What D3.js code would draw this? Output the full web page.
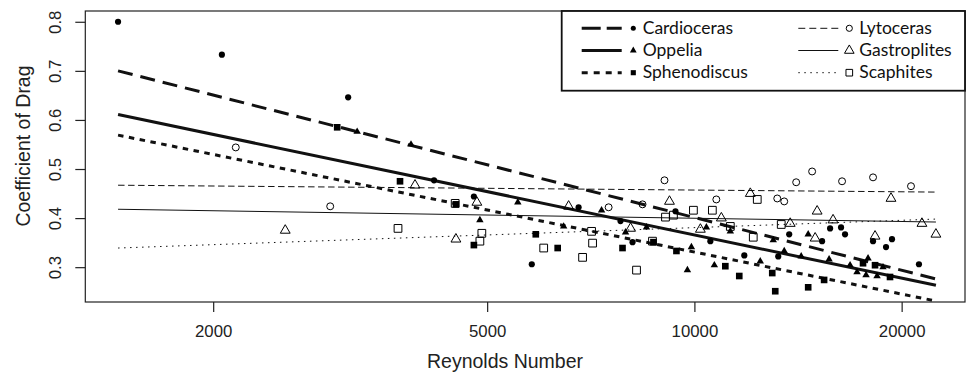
<!DOCTYPE html>
<html>
<head>
<meta charset="utf-8">
<script src="https://cdn.jsdelivr.net/npm/d3@7"></script>
<style>
  body { margin: 0; background: #fff; }
  svg { display: block; }
</style>
</head>
<body>
<div id="chart"></div>
<script>
// d3: drag coefficient vs Reynolds number for six ammonite genera
// ===============================================================

var width = 966,
    height = 372;

var box = {left: 85.3, right: 965, top: 11, bottom: 302};

// points: Reynolds number / coefficient of drag
var cardiocerasRe = [1455, 2059, 3141, 4186, 4783, 5805, 6789, 7810, 8131, 9386, 10548, 11816,
                     13237, 13731, 15328, 15743, 16331, 16550, 18175, 18981, 19364, 21192];
var cardiocerasCd = [0.800, 0.733, 0.646, 0.477, 0.444, 0.306, 0.422, 0.394, 0.351, 0.414, 0.353, 0.324,
                     0.322, 0.367, 0.353, 0.379, 0.381, 0.367, 0.353, 0.341, 0.357, 0.306];

var oppeliaRe = [3237, 3876, 4880, 5540, 6458, 7331, 7943, 8519, 9769, 9900, 10409, 10690, 11276,
                 12464, 13018, 13504, 14293, 14631, 15691, 16831, 17228, 17755, 17874, 18420, 18792];
var oppeliaCd = [0.576, 0.550, 0.396, 0.432, 0.383, 0.416, 0.371, 0.381, 0.294, 0.341, 0.381, 0.304, 0.373,
                 0.312, 0.355, 0.333, 0.322, 0.367, 0.316, 0.304, 0.290, 0.284, 0.318, 0.282, 0.300];

var sphenodiscusRe = [3028, 3736, 4504, 4783, 5883, 6330, 7863, 8720, 9417, 11090, 11619, 12974,
                      13105, 14631, 15431, 17577, 18297, 19237];
var sphenodiscusCd = [0.585, 0.475, 0.428, 0.345, 0.367, 0.339, 0.339, 0.351, 0.333, 0.302, 0.282, 0.288,
                      0.251, 0.259, 0.274, 0.308, 0.304, 0.280];

var lytocerasRe = [2157, 2958, 7506, 8407, 9048, 10761, 13193, 13504, 14055, 14825, 16386, 18175, 20635];
var lytocerasCd = [0.544, 0.424, 0.422, 0.428, 0.477, 0.438, 0.440, 0.434, 0.473, 0.495, 0.475, 0.483, 0.465];

var gastroplitesRe = [2545, 3928, 4504, 4831, 6566, 8078, 9200, 10202, 10943, 12055, 13777, 14976,
                      15076, 15900, 18297, 19300, 21404, 22428];
var gastroplitesCd = [0.375, 0.467, 0.357, 0.432, 0.424, 0.379, 0.434, 0.377, 0.400, 0.450, 0.389, 0.359,
                      0.414, 0.396, 0.363, 0.440, 0.389, 0.367];

var scaphitesRe = [3711, 4493, 4912, 4880, 6041, 6880, 7090, 7114, 8240, 8692, 9078, 9323, 9967,
                   10619, 11276, 12176, 12340, 13370];
var scaphitesCd = [0.379, 0.430, 0.369, 0.353, 0.339, 0.320, 0.373, 0.349, 0.294, 0.353, 0.402, 0.406, 0.416,
                   0.416, 0.383, 0.361, 0.438, 0.387];

// fitted lines: Cd at the two ends of the Reynolds range
var fitRe = [1455, 22430];
var fitStart = [0.700, 0.611, 0.569, 0.467, 0.418, 0.339];
var fitEnd   = [0.276, 0.263, 0.231, 0.453, 0.392, 0.398];

var genera = ['Cardioceras', 'Oppelia', 'Sphenodiscus', 'Lytoceras', 'Gastroplites', 'Scaphites'];
var xTicks = [2000, 5000, 10000, 20000];
var yTicks = [0.3, 0.4, 0.5, 0.6, 0.7, 0.8];

var reLists = [cardiocerasRe, oppeliaRe, sphenodiscusRe, lytocerasRe, gastroplitesRe, scaphitesRe];
var cdLists = [cardiocerasCd, oppeliaCd, sphenodiscusCd, lytocerasCd, gastroplitesCd, scaphitesCd];

// marker + line look for each genus
var styles = [
  {shape: d3.symbolCircle,   filled: true,  size: 30, legSize: 20, lw: 3, dash: "15,8",    legDash: "19,6"},
  {shape: d3.symbolTriangle, filled: true,  size: 24, legSize: 20, lw: 3, dash: null,      legDash: null},
  {shape: d3.symbolSquare,   filled: true,  size: 44, legSize: 26, lw: 3, dash: "5.5,5.5", legDash: "6,6"},
  {shape: d3.symbolCircle,   filled: false, size: 38, legSize: 30, lw: 1, dash: "6.5,3.5", legDash: "7,4"},
  {shape: d3.symbolTriangle, filled: false, size: 42, legSize: 40, lw: 1, dash: null,      legDash: null},
  {shape: d3.symbolSquare,   filled: false, size: 60, legSize: 44, lw: 1, dash: "1.5,4.5", legDash: "1.5,4.5"}
];

var series = genera.map(function(g, i) {
  return {name: g, pts: d3.zip(reLists[i], cdLists[i]), from: fitStart[i], to: fitEnd[i], st: styles[i]};
});

var svg = d3.select("#chart").append("svg")
    .attr("width", width)
    .attr("height", height);

var x = d3.scaleLog()
    .domain([1304, 24720])
    .range([box.left, box.right]);

// R style: data range padded by 4%
var cdExt = d3.extent(d3.merge(cdLists));
var pad = (cdExt[1] - cdExt[0]) * 0.04;
var y = d3.scaleLinear()
    .domain([cdExt[0] - pad, cdExt[1] + pad])
    .range([box.bottom, box.top]);

svg.append("clipPath").attr("id", "plotclip")
  .append("rect")
    .attr("x", box.left).attr("y", box.top)
    .attr("width", box.right - box.left).attr("height", box.bottom - box.top);

// fitted lines
svg.append("g").attr("clip-path", "url(#plotclip)")
  .selectAll("line")
  .data(series)
  .join("line")
    .attr("x1", x(fitRe[0]))
    .attr("x2", x(fitRe[1]))
    .attr("y1", function(d) { return y(d.from); })
    .attr("y2", function(d) { return y(d.to); })
    .attr("stroke", "#111")
    .attr("stroke-width", function(d) { return d.st.lw; })
    .attr("stroke-dasharray", function(d) { return d.st.dash; });

// points
series.forEach(function(s) {
  svg.append("g")
    .selectAll("path")
    .data(s.pts)
    .join("path")
      .attr("transform", function(d) { return "translate(" + x(d[0]) + "," + y(d[1]) + ")"; })
      .attr("d", d3.symbol(s.st.shape, s.st.size))
      .attr("fill", s.st.filled ? "#000" : "#fff")
      .attr("fill-opacity", s.st.filled ? 1 : 0)
      .attr("stroke", s.st.filled ? "none" : "#000")
      .attr("stroke-width", 1);
});

// axes
var xAxis = svg.append("g")
    .attr("transform", "translate(0," + box.bottom + ")")
    .call(d3.axisBottom(x).tickValues(xTicks).tickSize(10).tickPadding(13).tickFormat(d3.format("d")));
xAxis.select(".domain").remove();

var yAxis = svg.append("g")
    .attr("transform", "translate(" + box.left + ",0)")
    .call(d3.axisLeft(y).tickValues(yTicks).tickSize(10).tickFormat(d3.format(".1f")));
yAxis.select(".domain").remove();
yAxis.selectAll("text")
    .attr("x", 0).attr("dy", 0)
    .attr("text-anchor", "middle")
    .attr("transform", "translate(-24,0) rotate(-90)");

svg.selectAll(".tick line").attr("stroke", "#222").attr("stroke-width", 1.2);
svg.selectAll(".tick text")
    .attr("font-family", "'Liberation Sans', Arial, sans-serif")
    .attr("font-size", 16.8)
    .attr("fill", "#222");

// plot frame
svg.append("rect")
    .attr("x", box.left).attr("y", box.top)
    .attr("width", box.right - box.left).attr("height", box.bottom - box.top)
    .attr("fill", "none")
    .attr("stroke", "#222")
    .attr("stroke-width", 1.2);

// axis titles
svg.append("text")
    .attr("x", 505).attr("y", 368)
    .attr("text-anchor", "middle")
    .attr("font-family", "'Liberation Sans', Arial, sans-serif")
    .attr("font-size", 19.5)
    .attr("fill", "#222")
    .text("Reynolds Number");

svg.append("text")
    .attr("transform", "translate(30,146) rotate(-90)")
    .attr("text-anchor", "middle")
    .attr("font-family", "'Liberation Sans', Arial, sans-serif")
    .attr("font-size", 19.5)
    .attr("fill", "#222")
    .text("Coefficient of Drag");

// legend
var legend = svg.append("g");
legend.append("rect")
    .attr("x", 561.7).attr("y", box.top)
    .attr("width", box.right - 561.7).attr("height", 79.7)
    .attr("fill", "#fff")
    .attr("stroke", "#111")
    .attr("stroke-width", 1.8);

var legCols = [581.7, 798.3];
var legRows = [28.3, 50.5, 72.7];

var item = legend.selectAll("g.item")
    .data(series)
    .join("g")
    .attr("class", "item")
    .attr("transform", function(d, i) {
      return "translate(" + legCols[Math.floor(i / 3)] + "," + legRows[i % 3] + ")";
    });

item.append("line")
    .attr("x1", 0).attr("x2", 40)
    .attr("y1", 0).attr("y2", 0)
    .attr("stroke", "#111")
    .attr("stroke-width", function(d) { return d.st.lw; })
    .attr("stroke-dasharray", function(d) { return d.st.legDash; });

item.append("path")
    .attr("transform", function(d) { return "translate(" + (d.st.filled ? 51.6 : 51) + ",0)"; })
    .attr("d", function(d) { return d3.symbol(d.st.shape, d.st.legSize)(); })
    .attr("fill", function(d) { return d.st.filled ? "#000" : "none"; })
    .attr("stroke", function(d) { return d.st.filled ? "none" : "#000"; })
    .attr("stroke-width", 1);

item.append("text")
    .attr("x", 61)
    .attr("y", 5.4)
    .attr("font-family", "Lato, 'Noto Sans', sans-serif")
    .attr("font-size", 17.5)
    .attr("fill", "#111")
    .text(function(d) { return d.name; });
</script>
</body>
</html>
